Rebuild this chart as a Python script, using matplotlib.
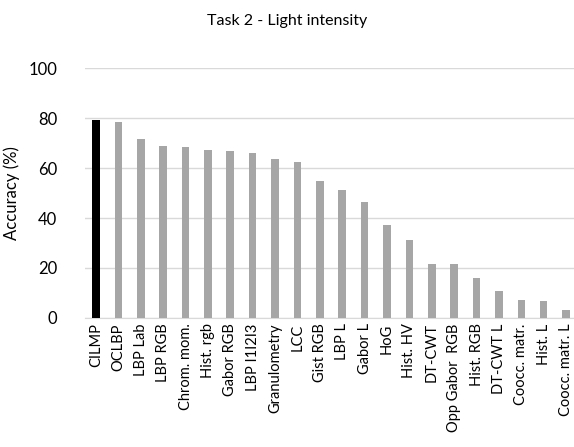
import matplotlib.pyplot as plt

plt.rcParams['font.family'] = ['Lato', 'DejaVu Sans']

methods = ['CILMP', 'OCLBP', 'LBP Lab', 'LBP RGB', 'Chrom. mom.', 'Hist. rgb',
           'Gabor RGB', 'LBP I1I2I3', 'Granulometry', 'LCC', 'Gist RGB', 'LBP L',
           'Gabor L', 'HoG', 'Hist. HV', 'DT-CWT', 'Opp Gabor  RGB', 'Hist. RGB',
           'DT-CWT L', 'Coocc. matr.', 'Hist. L', 'Coocc. matr. L']
accuracy = [79.3, 78.7, 71.8, 68.8, 68.4, 67.1, 66.8, 66.2, 63.6, 62.6, 55.0, 51.1,
            46.4, 37.4, 31.3, 21.5, 21.4, 15.8, 10.6, 7.1, 6.6, 3.1]

fig = plt.figure(figsize=(5.74, 4.47), dpi=100)
ax = fig.add_axes([0.1477, 0.289, 0.858, 0.558])

colors = ['black'] + ['#a6a6a6'] * (len(methods) - 1)
x = range(len(methods))
ax.bar(x, accuracy, width=0.34, color=colors, zorder=3)

ax.set_ylim(0, 100)
ax.set_xlim(-0.5, len(methods) - 0.5)
ax.set_yticks(range(0, 101, 20))
ax.tick_params(axis='y', length=0, labelsize=12, pad=20)
ax.tick_params(axis='x', length=0, labelsize=10.5, pad=4)
ax.set_xticks(list(x))
ax.set_xticklabels(methods, rotation=90)
ax.grid(axis='y', color='#d9d9d9', lw=1, zorder=0)
for s in ['top', 'right', 'left']:
    ax.spines[s].set_visible(False)
ax.spines['bottom'].set_color('#d9d9d9')
ax.set_ylabel('Accuracy (%)', fontsize=12, labelpad=6)
fig.text(0.5, 0.953, 'Task 2 - Light intensity', ha='center', va='center', fontsize=11.5)

fig.savefig('out.png', dpi=100, facecolor='white')
